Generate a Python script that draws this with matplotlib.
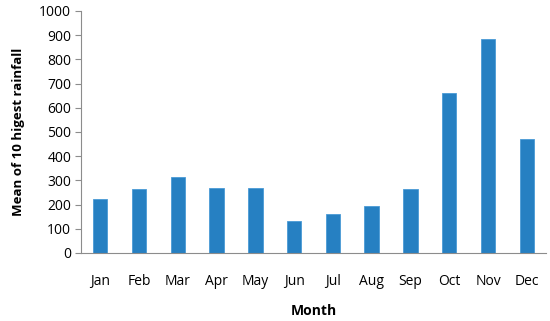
import matplotlib
matplotlib.use("Agg")
import matplotlib.pyplot as plt

months = ["Jan", "Feb", "Mar", "Apr", "May", "Jun", "Jul", "Aug", "Sep", "Oct", "Nov", "Dec"]
rainfall = [224, 266, 314, 270, 270, 132, 161, 195, 266, 662, 886, 470]
yticks = [0, 100, 200, 300, 400, 500, 600, 700, 800, 900, 1000]

plt.rcParams['font.family'] = ['Open Sans', 'DejaVu Sans']

fig = plt.figure(figsize=(5.5, 3.21), dpi=100)
ax = fig.add_axes([0.147, 0.212, 0.846, 0.754])

x = range(len(months))
ax.bar(x, rainfall, width=0.37, color='#2680c2', edgecolor='#4a9ad6', linewidth=0.6)

ax.set_xlim(-0.5, len(months) - 0.5)
ax.set_ylim(0, 1000)
ax.set_yticks(yticks)
ax.set_xticks(list(x))
ax.set_xticklabels(months)

for side in ['top', 'right']:
    ax.spines[side].set_visible(False)
ax.spines['left'].set_color('#8c8c8c')
ax.spines['bottom'].set_color('#8c8c8c')
ax.tick_params(axis='y', length=4, color='#8c8c8c', labelsize=10, pad=3)
ax.tick_params(axis='x', length=0, labelsize=10, pad=15)

ax.set_xlabel('Month', fontsize=10, fontweight='bold', labelpad=11)
ax.set_ylabel('Mean of 10 higest rainfall', fontsize=9.5, fontweight='bold', labelpad=10)

fig.savefig('out.png', dpi=100)
